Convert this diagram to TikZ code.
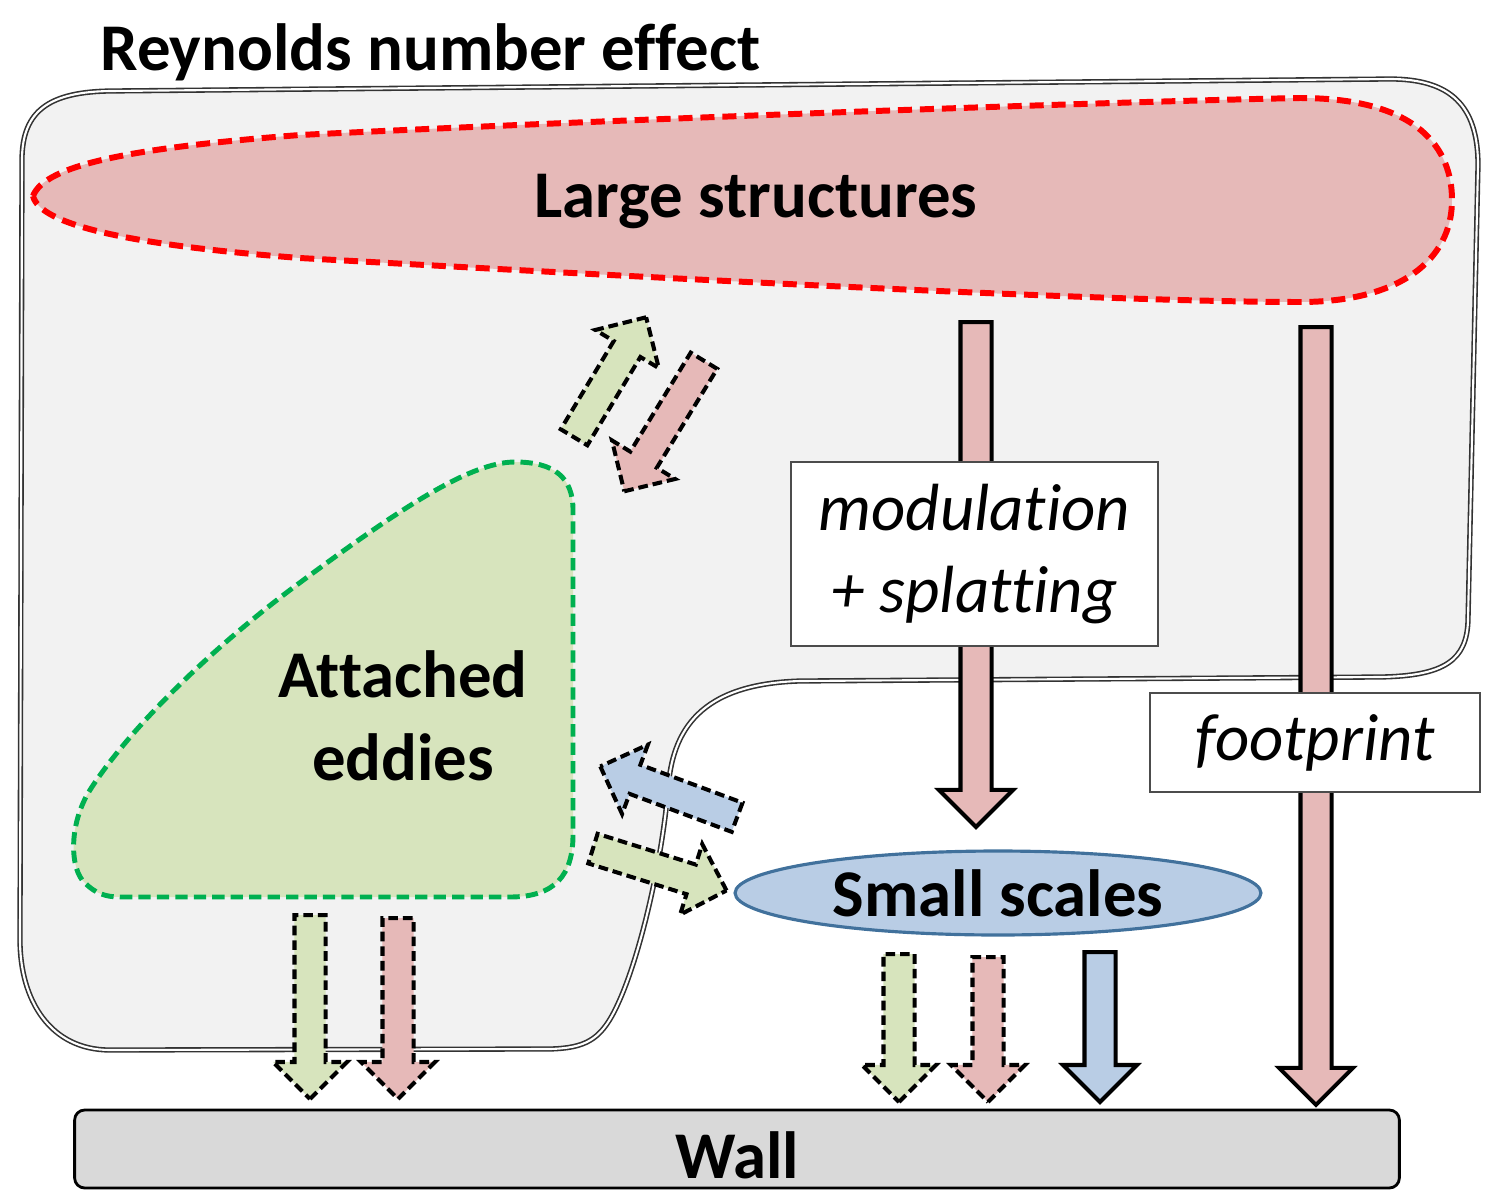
\documentclass[tikz,border=0pt]{standalone}
\usepackage{fontspec}
\setmainfont{Carlito}[Ligatures=NoCommon]
\usetikzlibrary{shapes.geometric,shapes.arrows}

\definecolor{lsred}{HTML}{E6B9B8}
\definecolor{aegreen}{HTML}{D7E4BD}
\definecolor{ssblue}{HTML}{B9CDE5}
\definecolor{ssedge}{HTML}{41719C}
\definecolor{regiongray}{HTML}{F2F2F2}
\definecolor{wallgray}{HTML}{D9D9D9}
\definecolor{edgegreen}{HTML}{00B050}

\tikzset{
  bigtext/.style={font=\fontsize{38}{47}\selectfont\bfseries},
  slanttext/.style={font=\fontsize{38}{47}\selectfont\itshape},
  region/.style={fill=regiongray, draw=black!80, double=white, line width=0.9pt, double distance=1.2pt},
  lsshape/.style={fill=lsred, draw=red, line width=3.4pt, dash pattern=on 8pt off 4.5pt},
  aeshape/.style={fill=aegreen, draw=edgegreen, line width=2.8pt, dash pattern=on 7pt off 3.5pt},
  blockarrow/.style={single arrow, inner xsep=0pt, inner ysep=0.27cm, single arrow head extend=0.43cm,
    single arrow tip angle=90, anchor=tail},
  dasharrow/.style={blockarrow, draw=black, line width=2.3pt, dash pattern=on 5.5pt off 2.8pt},
  solidarrow/.style={blockarrow, draw=black, line width=2.3pt},
  textbox/.style={rectangle, draw=black!70, line width=0.8pt, fill=white, slanttext, align=center}
}

\begin{document}
\begin{tikzpicture}[x=0.02cm, y=-0.02cm]
\useasboundingbox (0,0) rectangle (1485,1197);

\draw[region] (22,160) .. controls (22,110) and (50,92) .. (110,91) -- (1390,79)
  .. controls (1450,79) and (1478,105) .. (1478,165) -- (1468,620)
  .. controls (1467,660) and (1445,676) .. (1380,677) -- (800,681)
  .. controls (700,684) and (672,730) .. (668,790)
  .. controls (662,860) and (640,960) .. (615,1010)
  .. controls (600,1040) and (585,1048) .. (550,1049) -- (110,1050)
  .. controls (50,1050) and (20,1000) .. (20,940) -- cycle;

\draw[lsshape] (33,196) .. controls (45,165) and (130,148) .. (300,135)
  .. controls (600,120) and (1100,102) .. (1300,98)
  .. controls (1420,98) and (1452,150) .. (1452,200)
  .. controls (1452,260) and (1400,302) .. (1300,302)
  .. controls (1100,302) and (600,275) .. (300,258)
  .. controls (130,245) and (40,225) .. cycle;
\node[bigtext, anchor=base] (large) at (756,217) {Large structures};

\draw[aeshape] (120,897) -- (510,897) .. controls (555,897) and (573,875) .. (573,835) -- (573,510)
  .. controls (573,478) and (555,462) .. (515,462)
  .. controls (470,462) and (400,508) .. (290,590)
  .. controls (200,658) and (125,735) .. (90,790)
  .. controls (68,825) and (70,870) .. (85,883)
  .. controls (95,893) and (105,897) .. (120,897) -- cycle;
\node[bigtext, align=center] (attached) at (403,716) {Attached\\eddies};

\node[solidarrow, fill=lsred, minimum height=10.1cm, rotate=-90] (modarrow) at (976,320) {};
\node[solidarrow, fill=lsred, minimum height=15.56cm, rotate=-90] (footarrow) at (1316,325) {};
\node[solidarrow, fill=ssblue, minimum height=3cm, rotate=-90] (ssblue) at (1100,950) {};
\node[dasharrow, fill=aegreen, minimum height=2.96cm, rotate=-90] (ssgreen) at (899,952) {};
\node[dasharrow, fill=lsred, minimum height=2.9cm, rotate=-90] (ssred) at (988,955) {};
\node[dasharrow, fill=aegreen, minimum height=3.68cm, rotate=-90] (aegreen) at (310,913) {};
\node[dasharrow, fill=lsred, minimum height=3.62cm, rotate=-90] (aered) at (398,916) {};
\node[dasharrow, fill=aegreen, minimum height=2.8cm, rotate=59] (uparrow) at (573,439) {};
\node[dasharrow, fill=lsred, minimum height=3.06cm, rotate=-121.4] (downarrow) at (705,359) {};
\node[dasharrow, fill=ssblue, minimum height=2.92cm, rotate=159.6] (backarrow) at (739,818) {};
\node[dasharrow, fill=aegreen, minimum height=2.8cm, rotate=-17.4] (toarrow) at (591,848) {};

\node[textbox, minimum width=7.34cm, minimum height=3.68cm] (modbox) at (974.5,554) {modulation\\+ splatting};
\node[textbox, minimum width=6.6cm, minimum height=1.98cm] (footbox) at (1315,742.5) {footprint};

\node[ellipse, fill=ssblue, draw=ssedge, line width=1.8pt, minimum width=10.52cm, minimum height=1.68cm,
  inner sep=0pt, bigtext] (small) at (998,893) {Small scales};

\node[rectangle, rounded corners=0.2cm, fill=wallgray, draw=black, line width=1.6pt,
  minimum width=26.5cm, minimum height=1.56cm, text height=1.16cm, text depth=0cm, bigtext] (wall) at (737,1149) {Wall};

\node[bigtext, inner sep=0pt, anchor=base west] (title) at (100,70) {Reynolds number effect};
\end{tikzpicture}
\end{document}
